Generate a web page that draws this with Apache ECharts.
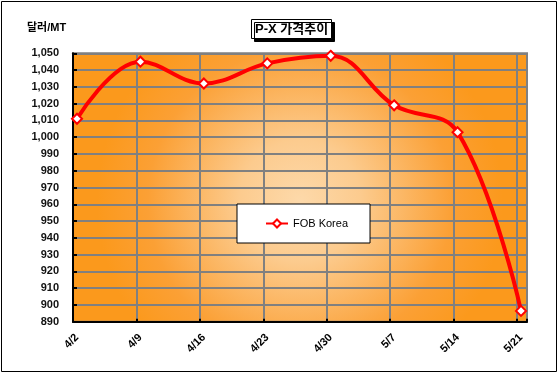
<!DOCTYPE html>
<html>
<head>
<meta charset="utf-8">
<script src="https://cdn.jsdelivr.net/npm/echarts@6/dist/echarts.min.js"></script>
<style>
html,body{margin:0;padding:0;background:#fff;}
#c{width:560px;height:375px;}
</style>
</head>
<body>
<div id="c"></div>
<script>
const categories = ['4/2', '4/9', '4/16', '4/23', '4/30', '5/7', '5/14', '5/21'];
const fobKorea = [1011, 1045, 1032, 1044, 1048.5, 1019, 1003, 896.5];
const seriesName = 'FOB Korea';
const titleText = 'P-X 가격추이';
const unitText = '달러/MT';
const yMin = 890, yMax = 1050, yStep = 10;

function fmt(v) {
  return String(v).replace(/\B(?=(\d{3})+(?!\d))/g, ',');
}

const chart = echarts.init(document.getElementById('c'), null, {renderer: 'canvas'});
const plotLeft = 73, plotTop = 53.3, plotW = 454, plotH = 268.5;
const catLeft = 77, catW = 444;
const step = catW / (categories.length - 1);

const bg = {
  type: 'radial', x: 0.5, y: 0.55, r: 0.75,
  colorStops: [
    {offset: 0, color: '#FDD9AA'},
    {offset: 0.3, color: '#FCCB8E'},
    {offset: 0.75, color: '#FBA035'},
    {offset: 1, color: '#FB991C'}
  ]
};

chart.setOption({
  animation: false,
  backgroundColor: '#fff',
  textStyle: {fontFamily: 'Arial, "Liberation Sans", "Noto Sans CJK KR", sans-serif'},
  title: {
    text: titleText,
    left: 251, top: 19,
    padding: [4, 4, 3, 4],
    backgroundColor: '#fff',
    borderColor: '#000', borderWidth: 1,
    shadowColor: '#000', shadowOffsetX: 3, shadowOffsetY: 3, shadowBlur: 0,
    textStyle: {fontSize: 13, fontWeight: 'bold', color: '#000',
      fontFamily: 'Arial, "Noto Sans CJK KR", sans-serif'}
  },
  legend: {
    data: [seriesName],
    left: 237, top: 204,
    padding: [14, 22, 14, 28],
    backgroundColor: '#fff',
    borderColor: '#000', borderWidth: 1,
    itemWidth: 22, itemHeight: 10,
    selectedMode: false,
    textStyle: {fontSize: 11, color: '#000', fontFamily: 'Arial, sans-serif'}
  },
  graphic: [
    {type: 'rect', shape: {x: 1.5, y: 1.5, width: 555, height: 370}, style: {fill: null, stroke: '#000', lineWidth: 1}, z: 0, silent: true},
    {type: 'text', left: 27, top: 22, style: {text: unitText, font: 'bold 11px Arial, "Noto Sans CJK KR", sans-serif', fill: '#000'}, z: 10}
  ],
  grid: [
    {left: plotLeft, top: plotTop, width: plotW, height: plotH, show: true,
     backgroundColor: bg, borderColor: '#808080', borderWidth: 2},
    {left: catLeft, top: plotTop, width: catW, height: plotH, show: false}
  ],
  xAxis: [
    {type: 'value', gridIndex: 0, min: 0, max: plotW / step, interval: 1,
     axisLine: {show: true, lineStyle: {color: '#000', width: 2}},
     axisTick: {show: true, inside: true, length: 3, lineStyle: {color: '#000', width: 2}},
     axisLabel: {show: false},
     splitLine: {show: true, lineStyle: {color: '#808080', width: 2}}},
    {type: 'category', gridIndex: 1, data: categories, boundaryGap: false,
     axisLine: {show: false}, axisTick: {show: false},
     splitLine: {show: false},
     axisLabel: {rotate: 45, margin: 14, fontSize: 11, fontWeight: 'bold', color: '#000', interval: 0}}
  ],
  yAxis: [
    {type: 'value', gridIndex: 0, min: yMin, max: yMax, interval: yStep,
     axisLine: {show: true, lineStyle: {color: '#000', width: 2}},
     axisTick: {show: true, inside: true, length: 4, lineStyle: {color: '#000', width: 2}},
     axisLabel: {formatter: fmt, fontSize: 11, fontWeight: 'bold', color: '#111', margin: 14},
     splitLine: {show: true, lineStyle: {color: '#808080', width: 2}}},
    {type: 'value', gridIndex: 1, min: yMin, max: yMax, interval: yStep, show: false,
     splitLine: {show: false}}
  ],
  series: [{
    name: seriesName,
    type: 'line',
    xAxisIndex: 1, yAxisIndex: 1,
    data: fobKorea,
    smooth: 0.4,
    clip: false,
    symbol: 'diamond',
    symbolSize: 10,
    lineStyle: {color: '#FF0000', width: 4},
    itemStyle: {color: '#fff', borderColor: '#FF0000', borderWidth: 2},
    z: 5
  }]
});
</script>
</body>
</html>
